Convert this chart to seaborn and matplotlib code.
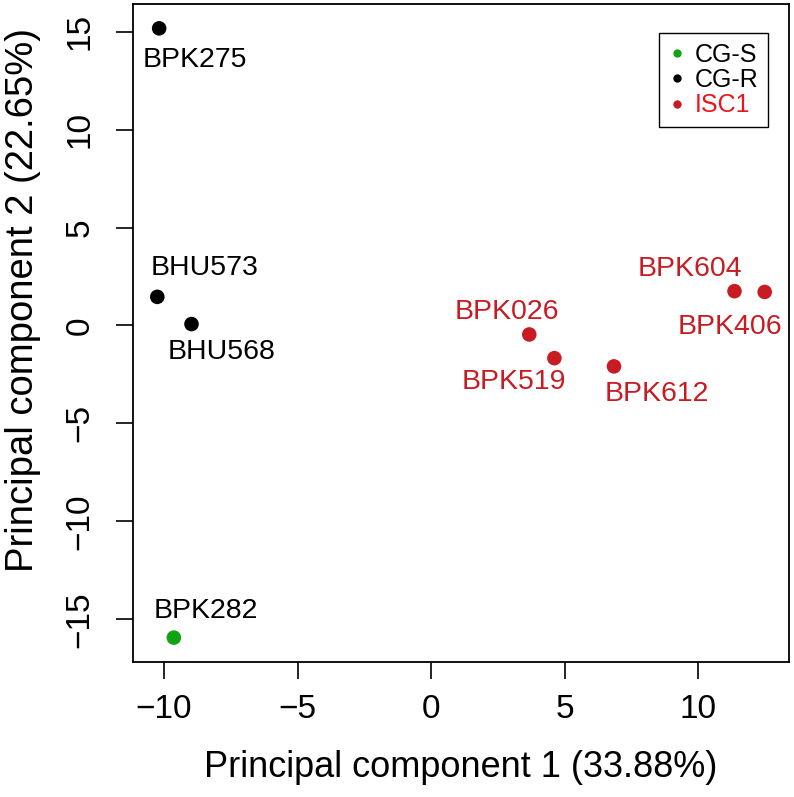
import numpy as np
import pandas as pd
import matplotlib
matplotlib.use('Agg')
import matplotlib.pyplot as plt
import seaborn as sns

# PCA scores
samples = ['BPK275', 'BHU573', 'BHU568', 'BPK282', 'BPK026',
           'BPK519', 'BPK612', 'BPK604', 'BPK406']
pc1 = [-10.18, -10.25, -8.97, -9.63, 3.67, 4.61, 6.84, 11.35, 12.48]
pc2 = [15.17, 1.46, 0.07, -15.94, -0.46, -1.67, -2.09, 1.75, 1.71]
groups = ['CG-R', 'CG-R', 'CG-R', 'CG-S', 'ISC1',
          'ISC1', 'ISC1', 'ISC1', 'ISC1']
group_order = ['CG-S', 'CG-R', 'ISC1']
xlab = 'Principal component 1 (33.88%)'
ylab = 'Principal component 2 (22.65%)'

# label offsets (points) so the names sit beside their dots
label_dx = [26, 34, 22, 23, -16, -29, 31, -32, -25]
label_dy = [-23, 21, -20, 19, 16, -17, -20, 16, -25]

colors = {'CG-S': '#12a312', 'CG-R': '#000000', 'ISC1': '#c81b22'}
label_color = {'CG-S': '#000000', 'CG-R': '#000000', 'ISC1': '#c81b22'}
legend_text = {'CG-S': '#000000', 'CG-R': '#000000', 'ISC1': '#e8161c'}

df = pd.DataFrame({'sample': samples, 'pc1': pc1, 'pc2': pc2, 'group': groups})

sns.set_style('ticks')
plt.rcParams['font.family'] = ['Liberation Sans', 'DejaVu Sans']
plt.rcParams['text.color'] = 'black'
plt.rcParams['axes.labelcolor'] = 'black'

fig = plt.figure(figsize=(7.94, 7.97), dpi=100)
ax = fig.add_axes([0.1675, 0.1694, 0.8262, 0.8256])

sns.scatterplot(data=df, x='pc1', y='pc2', hue='group', hue_order=group_order,
                palette=colors, s=110, edgecolor='none', ax=ax, legend=False)

for i, name in enumerate(samples):
    ax.annotate(name, (pc1[i], pc2[i]), xytext=(label_dx[i], label_dy[i]),
                textcoords='offset points', ha='center', va='center',
                fontsize=20.5, color=label_color[groups[i]])

# R-style 4% padding around the data
xr = max(pc1) - min(pc1)
yr = max(pc2) - min(pc2)
ax.set_xlim(min(pc1) - 0.04 * xr, max(pc1) + 0.04 * xr)
ax.set_ylim(min(pc2) - 0.04 * yr, max(pc2) + 0.04 * yr)

ax.set_xticks([-10, -5, 0, 5, 10])
ax.set_xticklabels(['\u221210', '\u22125', '0', '5', '10'])
ax.set_yticks([-15, -10, -5, 0, 5, 10, 15])
ax.set_yticklabels(['\u221215', '\u221210', '\u22125', '0', '5', '10', '15'],
                   rotation=90, va='center')
ax.tick_params(axis='both', length=12, width=1.2, colors='black', labelsize=24)
ax.tick_params(axis='x', pad=11)
ax.tick_params(axis='y', pad=15)

for sp in ax.spines.values():
    sp.set_visible(True)
    sp.set_color('black')
    sp.set_linewidth(1.3)

ax.set_xlabel(xlab, fontsize=26, labelpad=18)
ax.set_ylabel(ylab, fontsize=27.5)
ax.yaxis.set_label_coords(-0.140, 0.55)

# legend with small dots
handles = [plt.Line2D([], [], marker='o', linestyle='', markersize=6,
                      markerfacecolor=colors[g], markeredgecolor='none')
           for g in group_order]
leg = ax.legend(handles, group_order, loc='upper right',
                bbox_to_anchor=(0.968, 0.956), borderaxespad=0,
                fontsize=18, frameon=True, fancybox=False, framealpha=1,
                edgecolor='black', handlelength=0.6, handletextpad=0.4,
                labelspacing=0.05, borderpad=0.4)
leg.get_frame().set_linewidth(1.0)
for t, g in zip(leg.get_texts(), group_order):
    t.set_color(legend_text[g])

fig.savefig('out.png', dpi=100)
